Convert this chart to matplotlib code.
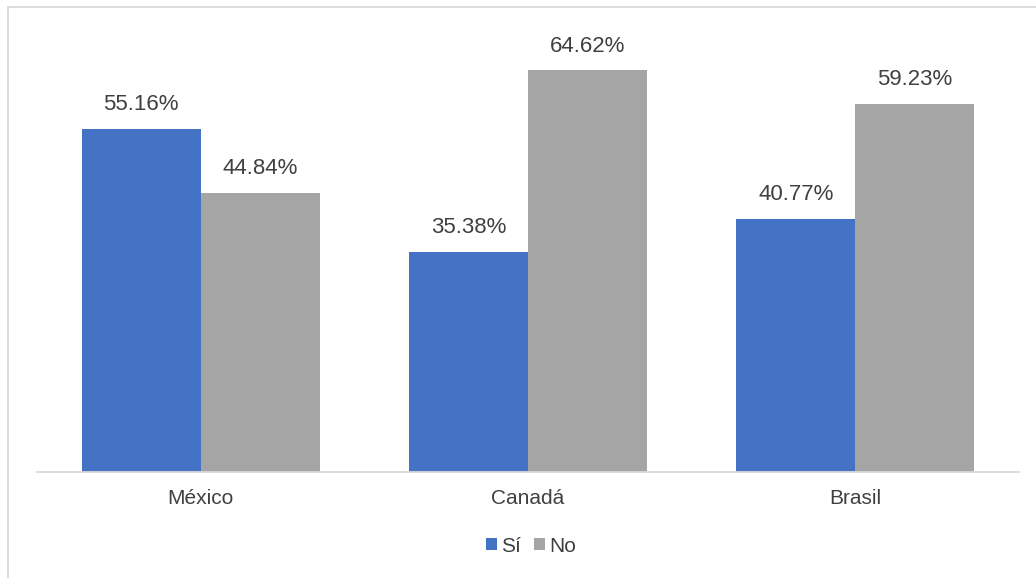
import numpy as np, matplotlib
matplotlib.use('Agg')
import matplotlib.pyplot as plt
from matplotlib.patches import Rectangle

countries = ['México', 'Canadá', 'Brasil']
si = [55.16, 35.38, 40.77]
no = [44.84, 64.62, 59.23]

BLUE = '#4472C4'; GRAY = '#A5A5A5'; TXT = '#404040'
plt.rcParams['font.family'] = ['Liberation Sans', 'DejaVu Sans']

W, H = 1036, 578
fig = plt.figure(figsize=(W/100, H/100), dpi=100)
fig.patch.set_facecolor('white')
# chart-area border
fig.patches.append(Rectangle((7.5/W, -0.1), 1.2, 1 - 6.5/H + 0.1, transform=fig.transFigure,
                             fill=False, edgecolor='#D9D9D9', lw=1.3))

ax = fig.add_axes([37/W, 1 - 472/H, (1019-37)/W, (472-37)/H])
x = np.arange(len(countries))
bw = 0.364
b1 = ax.bar(x - bw/2, si, bw, color=BLUE, label='Sí')
b2 = ax.bar(x + bw/2, no, bw, color=GRAY, label='No')
for bars, vals in ((b1, si), (b2, no)):
    for r, v in zip(bars, vals):
        ax.annotate(f'{v:.2f}%', (r.get_x() + r.get_width()/2, v), xytext=(0, 10),
                    textcoords='offset points', ha='center', va='bottom', fontsize=16, color=TXT)

ax.set_xlim(-0.5, 2.5); ax.set_ylim(0, 70)
for s in ('top', 'right', 'left'):
    ax.spines[s].set_visible(False)
ax.spines['bottom'].set_color('#D9D9D9'); ax.spines['bottom'].set_linewidth(1.3)
ax.set_yticks([])
ax.set_xticks(x, countries)
ax.tick_params(axis='x', length=0, pad=12, labelsize=15, labelcolor=TXT)

fig.legend(handles=[b1, b2], loc='center', bbox_to_anchor=(531/W, 1 - 546/H), ncol=2, frameon=False,
           fontsize=15, handlelength=0.55, handleheight=0.55, handletextpad=0.2, columnspacing=0.6,
           labelcolor=TXT)

fig.savefig('out.png', dpi=100, facecolor='white')
